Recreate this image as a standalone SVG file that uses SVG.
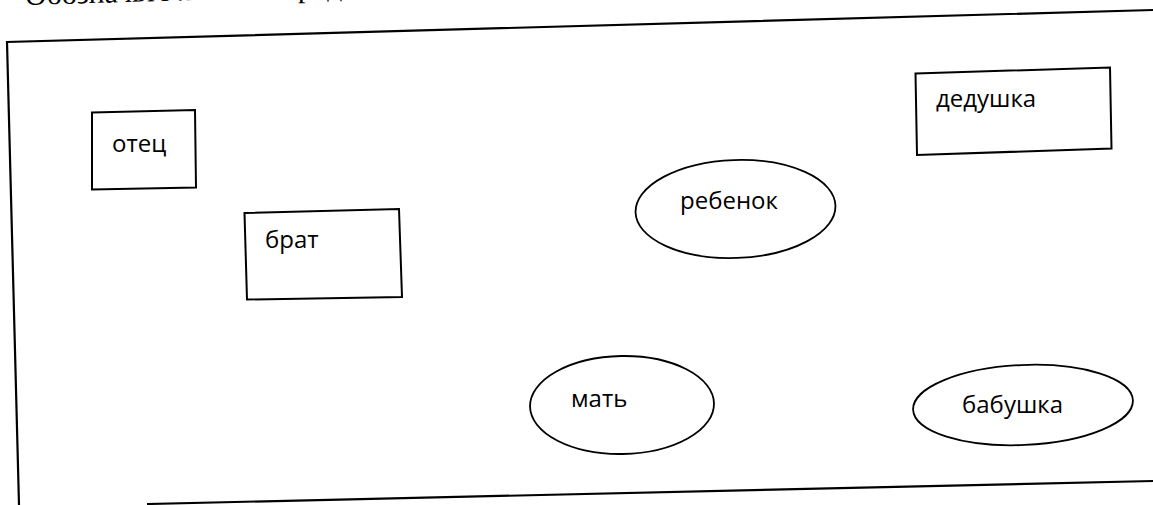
<svg xmlns="http://www.w3.org/2000/svg" width="1153" height="505" viewBox="0 0 1153 505">
  <style>
    .box { fill: none; stroke: #000; stroke-width: 2; stroke-linejoin: miter; }
    .oval { fill: none; stroke: #000; stroke-width: 1.8; }
    .frame { fill: none; stroke: #000; stroke-width: 2.2; }
    .lbl { font-family: "Open Sans", "Noto Sans", sans-serif; font-size: 24px; fill: #000; }
    .head { font-family: "Liberation Serif", "Times New Roman", serif; font-size: 30px; fill: #000; }
  </style>
  <rect width="1153" height="505" fill="#fff"/>

  <!-- heading line, mostly above the page edge -->
  <text class="head" x="25" y="5" transform="rotate(-1.7 25 5)">Обозначьте линиями родственные связи</text>

  <!-- outer frame -->
  <g id="frame">
    <path class="frame" d="M19,505 L7,42 L1153,10"/>
    <path class="frame" d="M147,504 L1153,481"/>
  </g>

  <g id="connectors"></g>

  <g id="otec">
    <path class="box" d="M92,112.5 L195,110 L196,187.5 L92,189.5 Z"/>
    <text class="lbl" x="112" y="152">отец</text>
  </g>

  <g id="brat">
    <path class="box" d="M244.5,213 L399,209 L402,297 L247,299.5 Z"/>
    <text class="lbl" x="265" y="248">брат</text>
  </g>

  <g id="dedushka">
    <path class="box" d="M915.5,73.5 L1110,67.5 L1111.5,148.5 L917,155 Z"/>
    <text class="lbl" x="936" y="107">дедушка</text>
  </g>

  <g id="rebenok">
    <ellipse class="oval" cx="735.5" cy="209" rx="100" ry="49" transform="rotate(-2 735.5 209)"/>
    <text class="lbl" x="680" y="208.5">ребенок</text>
  </g>

  <g id="mat">
    <ellipse class="oval" cx="622" cy="405" rx="92" ry="49" transform="rotate(-1 622 405)"/>
    <text class="lbl" x="571" y="407">мать</text>
  </g>

  <g id="babushka">
    <ellipse class="oval" cx="1023" cy="405" rx="110" ry="40" transform="rotate(-2.5 1023 405)"/>
    <text class="lbl" x="962" y="413">бабушка</text>
  </g>
</svg>
